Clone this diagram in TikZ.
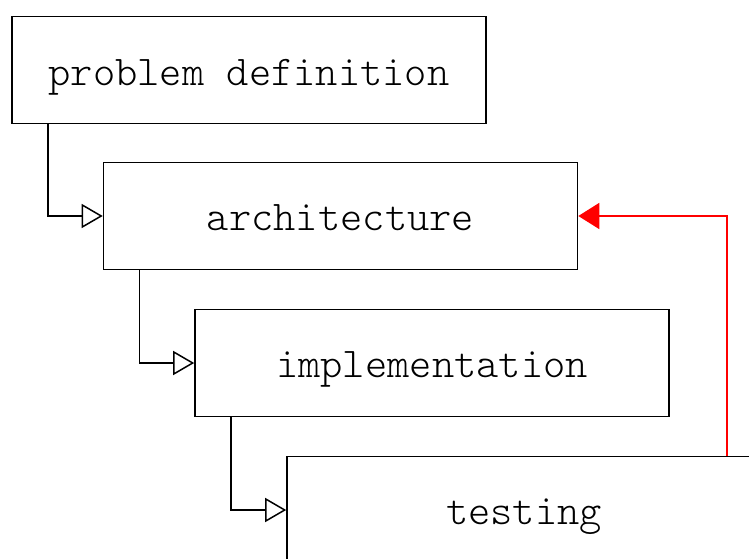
\documentclass[tikz,border=0pt]{standalone}
\usepackage{fontspec}
\setmonofont{Latin Modern Mono Light}
\usetikzlibrary{arrows.meta}
\begin{document}
\begin{tikzpicture}[x=1pt,y=-1pt,
  stage/.style={draw, line width=1.6pt, minimum width=474pt, minimum height=107pt,
    inner sep=0pt, text depth=0pt,
    font=\ttfamily\fontsize{42.4}{44}\selectfont},
  flow/.style={draw, line width=1.5pt, -{Triangle[open, length=21pt, width=24pt, line width=1.5pt]}},
  back/.style={draw=red, line width=1.5pt, -{Triangle[length=21pt, width=26pt]}}]
  \useasboundingbox (0,0) rectangle (749,559);
  \clip (0,0) rectangle (749,559);
  \node[stage] (pd) at (249,70) {\raisebox{-4pt}{problem definition}};
  \node[stage] (ar) at (340.5,216) {\raisebox{-4pt}{architecture}};
  \node[stage] (im) at (432,363) {\raisebox{-4pt}{implementation}};
  \node[stage] (te) at (524,510) {\raisebox{-4pt}{testing}};
  \draw[flow] ([xshift=-201pt]pd.south) |- (ar.west);
  \draw[flow] ([xshift=-201pt]ar.south) |- (im.west);
  \draw[flow] ([xshift=-201pt]im.south) |- (te.west);
  \draw[back] ([xshift=203pt]te.north) |- (ar.east);
\end{tikzpicture}
\end{document}
